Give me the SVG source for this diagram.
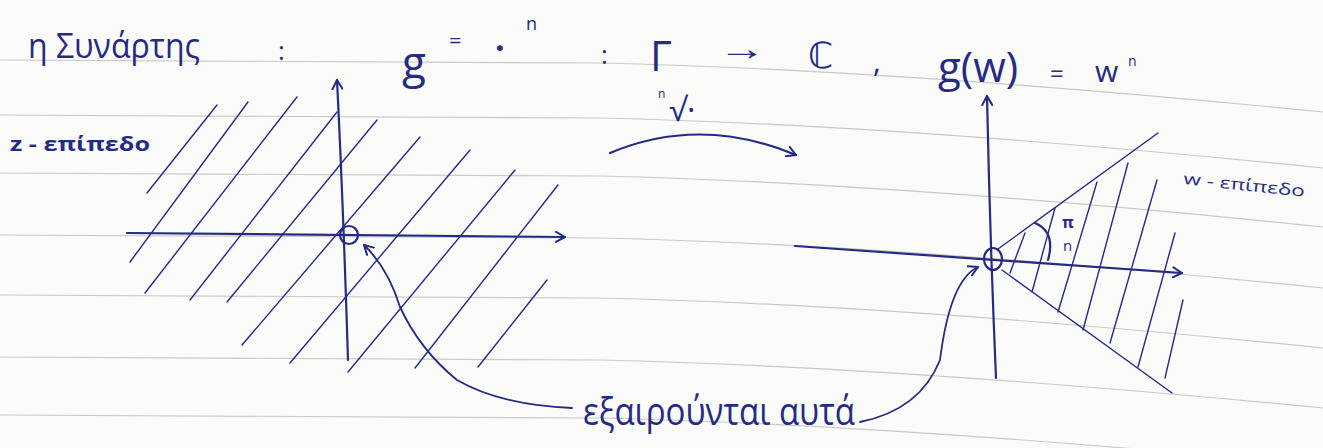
<svg xmlns="http://www.w3.org/2000/svg" width="1323" height="448" viewBox="0 0 1323 448">
  <defs>
    <style>
      .paper { fill: #fbfbfa; }
      .rule { fill: none; stroke: #c9c9c9; stroke-width: 1.2; }
      .ink { fill: none; stroke: #252a84; stroke-linecap: round; stroke-linejoin: round; }
      .axis { stroke-width: 2.2; }
      .hatch { stroke-width: 1.4; }
      .txt { fill: #252a84; font-family: "Open Sans", "Liberation Sans", "DejaVu Sans", sans-serif; }
    </style>
    <marker id="head" viewBox="0 0 12 12" refX="10" refY="6" markerWidth="12" markerHeight="12" markerUnits="userSpaceOnUse" orient="auto">
      <path d="M1,1 L10,6 L1,11" fill="none" stroke="#252a84" stroke-width="2" stroke-linecap="round" stroke-linejoin="round"/>
    </marker>
  </defs>

  <rect class="paper" x="0" y="0" width="1323" height="448"/>

  <g id="ruled-lines">
    <path class="rule" d="M0,60 L600,63 Q900,70 1323,112"/>
    <path class="rule" d="M0,115 L600,118 Q900,125 1323,168"/>
    <path class="rule" d="M0,173 L600,176 Q900,183 1323,227"/>
    <path class="rule" d="M0,235 L600,238 Q900,245 1323,288"/>
    <path class="rule" d="M0,295 L600,298 Q900,305 1323,348"/>
    <path class="rule" d="M0,357 L600,360 Q900,367 1323,408"/>
    <path class="rule" d="M0,415 L600,418 Q900,425 1323,466"/>
  </g>

  <g id="title">
    <text class="txt" x="28" y="58" font-size="34" textLength="172" lengthAdjust="spacingAndGlyphs">η Συνάρτης</text>
    <text class="txt" x="278" y="60" font-size="26">:</text>
    <text class="txt" x="402" y="78" font-size="44">g</text>
    <text class="txt" x="449" y="48" font-size="22">=</text>
    <text class="txt" x="495" y="60" font-size="34" font-weight="bold">·</text>
    <text class="txt" x="526" y="30" font-size="18">n</text>
    <text class="txt" x="601" y="64" font-size="26">:</text>
    <text class="txt" x="650" y="71" font-size="42">Γ</text>
    <text class="txt" x="718" y="60" font-size="34" textLength="48" lengthAdjust="spacingAndGlyphs">→</text>
    <text class="txt" x="808" y="68" font-size="36">ℂ</text>
    <text class="txt" x="873" y="72" font-size="30">,</text>
    <text class="txt" x="938" y="82" font-size="42">g(w)</text>
    <text class="txt" x="1050" y="82" font-size="24">=</text>
    <text class="txt" x="1095" y="82" font-size="30">w</text>
    <text class="txt" x="1128" y="66" font-size="14">n</text>
  </g>

  <g id="map-label">
    <text class="txt" x="658" y="121"><tspan font-size="12" dy="-23">n</tspan><tspan font-size="32" dx="4" dy="23">√·</tspan></text>
  </g>

  <g id="z-plane">
    <text class="txt" x="10" y="151" font-size="20" font-weight="bold" textLength="140" lengthAdjust="spacingAndGlyphs">z - επίπεδο</text>
    <g class="ink hatch">
      <line x1="147" y1="193" x2="217" y2="105"/>
      <line x1="130" y1="262" x2="248" y2="102"/>
      <line x1="145" y1="293" x2="297" y2="97"/>
      <line x1="190" y1="300" x2="337" y2="112"/>
      <line x1="227" y1="302" x2="377" y2="120"/>
      <line x1="242" y1="345" x2="420" y2="137"/>
      <line x1="290" y1="363" x2="470" y2="150"/>
      <line x1="348" y1="372" x2="515" y2="170"/>
      <line x1="415" y1="368" x2="558" y2="185"/>
      <line x1="478" y1="367" x2="547" y2="280"/>
    </g>
    <path class="ink axis" d="M127,233 L565,237" marker-end="url(#head)"/>
    <path class="ink axis" d="M348,360 Q343,200 337,80" marker-end="url(#head)"/>
    <circle class="ink axis" cx="349" cy="235" r="9"/>
  </g>

  <g id="w-plane">
    <text class="txt" x="1183" y="184" font-size="16" transform="rotate(6 1183 184)" textLength="122" lengthAdjust="spacingAndGlyphs">w - επίπεδο</text>
    <g class="ink hatch">
      <line x1="1025" y1="233" x2="1010" y2="273"/>
      <line x1="1055" y1="208" x2="1032" y2="292"/>
      <line x1="1097" y1="182" x2="1058" y2="312"/>
      <line x1="1128" y1="163" x2="1083" y2="330"/>
      <line x1="1157" y1="180" x2="1110" y2="343"/>
      <line x1="1175" y1="233" x2="1138" y2="367"/>
      <line x1="1183" y1="300" x2="1165" y2="378"/>
    </g>
    <path class="ink axis" d="M795,246 L1182,273" marker-end="url(#head)"/>
    <path class="ink axis" d="M996,378 Q990,240 987,96" marker-end="url(#head)"/>
    <ellipse class="ink axis" cx="993" cy="259" rx="9" ry="11"/>
    <line class="ink hatch" x1="998" y1="249" x2="1158" y2="133"/>
    <line class="ink hatch" x1="1002" y1="270" x2="1172" y2="393"/>
    <path class="ink axis" d="M1035,223 Q1056,232 1048,260"/>
    <text class="txt" x="1062" y="228" font-size="16" font-weight="bold">π</text>
    <text class="txt" x="1063" y="251" font-size="15">n</text>
  </g>

  <g id="note">
    <text class="txt" x="583" y="425" font-size="38" textLength="272" lengthAdjust="spacingAndGlyphs">εξαιρούνται αυτά</text>
  </g>

  <g id="connectors">
    <path class="ink axis" d="M610,153 Q700,115 796,155" marker-end="url(#head)"/>
    <path class="ink" stroke-width="1.8" d="M572,408 Q500,405 457,380 Q420,350 400,307 Q388,268 364,245" marker-end="url(#head)"/>
    <path class="ink" stroke-width="1.8" d="M860,422 Q920,410 940,360 Q950,280 978,267" marker-end="url(#head)"/>
  </g>
</svg>
